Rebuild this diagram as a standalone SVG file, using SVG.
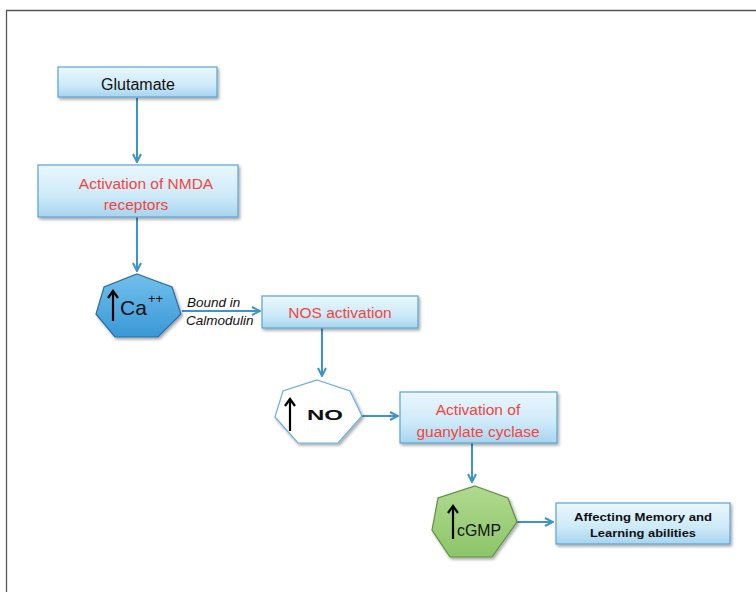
<svg xmlns="http://www.w3.org/2000/svg" width="756" height="592" viewBox="0 0 756 592">
<style>
.box{fill:url(#boxg);stroke:#5aa3d4;stroke-width:1.2;filter:url(#sh)}
.red{font-family:"Liberation Sans",Arial,sans-serif;font-size:15.5px;fill:#f5443f;text-anchor:middle}
.blk{font-family:"Liberation Sans",Arial,sans-serif;fill:#111}
.conn{stroke:#3d94c8;stroke-width:2;fill:none;marker-end:url(#ah)}
.up{stroke:#000;stroke-width:2.2;fill:none}
</style>
<defs>
<linearGradient id="boxg" x1="0" y1="0" x2="0" y2="1">
<stop offset="0" stop-color="#eaf7fd"/>
<stop offset="0.6" stop-color="#cdeaf8"/>
<stop offset="1" stop-color="#a6d4ef"/>
</linearGradient>
<linearGradient id="cag" x1="0" y1="0" x2="0" y2="1">
<stop offset="0" stop-color="#72c0ec"/>
<stop offset="1" stop-color="#3a98d6"/>
</linearGradient>
<linearGradient id="gg" x1="0" y1="0" x2="0" y2="1">
<stop offset="0" stop-color="#b0da8e"/>
<stop offset="1" stop-color="#8cc56a"/>
</linearGradient>
<filter id="sh" x="-10%" y="-10%" width="130%" height="140%">
<feDropShadow dx="1.5" dy="2" stdDeviation="1.5" flood-color="#000" flood-opacity="0.35"/>
</filter>
<marker id="ah" viewBox="0 0 10 10" refX="9" refY="5" markerWidth="5" markerHeight="5" markerUnits="strokeWidth" orient="auto">
<polyline points="1,1 9,5 1,9" fill="none" stroke="#3d94c8" stroke-width="2"/>
</marker>
</defs>
<rect width="756" height="592" fill="#fff"/>
<polyline points="6.5,592 6.5,10.5 756,10.5" fill="none" stroke="#555" stroke-width="1.3"/>

<g id="connectors">
<line class="conn" x1="137" y1="98" x2="137" y2="162"/>
<line class="conn" x1="137" y1="217" x2="137" y2="271"/>
<line class="conn" x1="182" y1="311" x2="260" y2="311"/>
<line class="conn" x1="322" y1="328" x2="322" y2="376"/>
<line class="conn" x1="362" y1="416" x2="398" y2="416"/>
<line class="conn" x1="472" y1="443" x2="472" y2="482"/>
<line class="conn" x1="517" y1="522" x2="553" y2="522"/>
<text class="blk" x="187" y="307" font-size="13.5" font-style="italic">Bound in</text>
<text class="blk" x="186" y="325" font-size="13.5" font-style="italic">Calmodulin</text>
</g>

<g id="glutamate">
<rect class="box" x="58" y="67" width="159" height="30"/>
<text class="blk" x="138" y="90" font-size="16" text-anchor="middle">Glutamate</text>
</g>

<g id="nmda">
<rect class="box" x="38" y="165" width="200" height="52"/>
<text class="red" x="146" y="189">Activation of NMDA</text>
<text class="red" x="136" y="210">receptors</text>
</g>

<g id="ca">
<polygon points="137,274 172,287 181,314 158,337 115,337 96,314 104,287" fill="url(#cag)" stroke="#2c6e9e" stroke-width="1.2" filter="url(#sh)"/>
<line class="up" x1="113" y1="321" x2="113" y2="292"/>
<polyline class="up" points="108,298 113,291 118,298"/>
<text class="blk" x="120" y="315" font-size="21">Ca</text>
<text class="blk" x="148" y="303" font-size="13">++</text>
</g>

<g id="nos">
<rect class="box" x="262" y="296" width="156" height="32"/>
<text class="red" x="340" y="318">NOS activation</text>
</g>

<g id="no">
<polygon points="317,380 350,391 362,416 338,443 298,443 275,417 283,391" fill="#fff" stroke="#6aaedc" stroke-width="1.2" filter="url(#sh)"/>
<line class="up" x1="290" y1="431" x2="290" y2="400"/>
<polyline class="up" points="285,406 290,399 295,406"/>
<text class="blk" x="307" y="420" font-size="15" font-weight="bold" textLength="36" lengthAdjust="spacingAndGlyphs">NO</text>
</g>

<g id="guanylate">
<rect class="box" x="400" y="392" width="157" height="51"/>
<text class="red" x="478" y="415">Activation of</text>
<text class="red" x="478" y="437">guanylate cyclase</text>
</g>

<g id="cgmp">
<polygon points="475,486 508,498 517,522 492,557 450,557 432,530 438,498" fill="url(#gg)" stroke="#5f8f42" stroke-width="1.2" filter="url(#sh)"/>
<line class="up" x1="453" y1="539" x2="453" y2="507"/>
<polyline class="up" points="448,513 453,506 458,513"/>
<text class="blk" x="457" y="536" font-size="17" textLength="44" lengthAdjust="spacingAndGlyphs">cGMP</text>
</g>

<g id="affecting">
<rect class="box" x="556" y="503" width="174" height="41"/>
<text class="blk" x="643" y="521" font-size="11" font-weight="bold" text-anchor="middle" font-family="'DejaVu Sans',sans-serif" textLength="138" lengthAdjust="spacingAndGlyphs">Affecting Memory and</text>
<text class="blk" x="643" y="537" font-size="11" font-weight="bold" text-anchor="middle" font-family="'DejaVu Sans',sans-serif" textLength="106" lengthAdjust="spacingAndGlyphs">Learning abilities</text>
</g>
</svg>
